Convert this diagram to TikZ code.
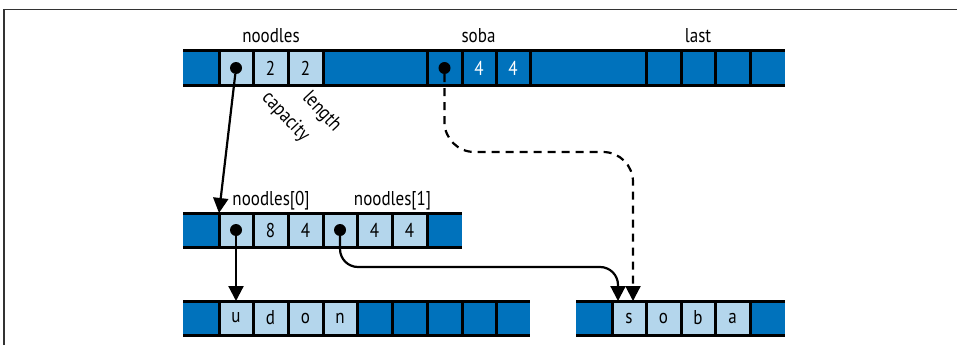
\documentclass[tikz,border=0pt]{standalone}
\usepackage{fontspec}
\setmainfont[FakeStretch=0.85]{PT Sans}
\usetikzlibrary{calc, arrows.meta}
\definecolor{slicedark}{RGB}{0,114,188}
\definecolor{slicelight}{RGB}{180,214,236}

\begin{document}
\begin{tikzpicture}[x=1pt, y=-1pt, font=\fontsize{20}{22}\selectfont,
  dk/.style={rectangle, inner sep=0pt, outer sep=0pt, minimum height=34pt,
    anchor=north west, fill=slicedark, text=white},
  lt/.style={dk, fill=slicelight, text=black},
  barline/.style={line width=3pt},
  ptrdot/.style={circle, fill=black, inner sep=0pt, minimum size=12pt},
  ptrline/.style={line width=2.2pt, -{Triangle[length=15pt, width=15pt]}}]
  \useasboundingbox (0,0) rectangle (957,345);
  \draw[line width=1.5pt, black!80] (4,345) -- (4,9.5) -- (957,9.5);

  % top row: noodles, soba, last
  \foreach \nm/\xa/\xb/\st/\tx in {a0/183/219/dk/, a1/219/253/lt/, a2/253/288/lt/2,
      a3/288/323/lt/2, a4/323/427/dk/, a5/427/462/dk/, a6/462/496/dk/4, a7/496/530/dk/4,
      a8/530/646/dk/, a9/646/681/dk/, a10/681/715/dk/, a11/715/750/dk/, a12/750/785/dk/}
    \node[\st, minimum width={(\xb-\xa)*1pt}] (\nm) at (\xa,51) {\tx};
  % backing array of noodles
  \foreach \nm/\xa/\xb/\st/\tx in {b0/183/219/dk/, b1/219/253/lt/, b2/253/288/lt/8,
      b3/288/323/lt/4, b4/323/357/lt/, b5/357/392/lt/4, b6/392/427/lt/4, b7/427/462/dk/}
    \node[\st, minimum width={(\xb-\xa)*1pt}] (\nm) at (\xa,213) {\tx};
  % the two string arrays
  \foreach \nm/\xa/\xb/\st/\tx in {c0/183/219/dk/, c1/219/253/lt/u, c2/253/288/lt/d,
      c3/288/323/lt/o, c4/323/357/lt/n, c5/357/392/dk/, c6/392/427/dk/, c7/427/462/dk/,
      c8/462/496/dk/, c9/496/530/dk/,
      d0/576/612/dk/, d1/612/646/lt/s, d2/646/681/lt/o, d3/681/715/lt/b,
      d4/715/750/lt/a, d5/750/785/dk/}
    \node[\st, minimum width={(\xb-\xa)*1pt}] (\nm) at (\xa,301) {\tx};

  \foreach \c in {a0,a1,a2,a3,a4,a5,a6,a7,a8,a9,a10,a11,b0,b1,b2,b3,b4,b5,b6,
      c0,c1,c2,c3,c4,c5,c6,c7,c8,d0,d1,d2,d3,d4}
    \draw[barline] (\c.north east) -- (\c.south east);
  \foreach \f/\l in {a0/a12, b0/b7, c0/c9, d0/d5} {
    \draw[barline] (\f.north west) -- (\l.north east);
    \draw[barline] (\f.south west) -- (\l.south east);
  }

  \node[anchor=base] (lnoodles) at ($(a1.north west)!.5!(a3.north east)+(0,-8)$) {noodles};
  \node[anchor=base] (lsoba) at ($(a5.north west)!.5!(a7.north east)+(0,-8)$) {soba};
  \node[anchor=base] (llast) at ($(a9.north west)!.5!(a11.north east)+(0,-8)$) {last};
  \node[anchor=base] (lzero) at ($(b1.north west)!.5!(b3.north east)+(0,-8)$) {noodles[0]};
  \node[anchor=base] (lone) at ($(b4.north west)!.5!(b7.north east)+(0,-8)$) {noodles[1]};
  \node[rotate=-47, inner sep=1pt] (lcap) at ($(a2.south)+(15,32)$) {capacity};
  \node[rotate=-47, inner sep=1pt] (llen) at ($(a3.south)+(16,27)$) {length};

  \foreach \c in {a1,a5,b1,b4}
    \node[ptrdot] (p\c) at (\c) {};
  \coordinate (solidlvl) at (0,267);
  \coordinate (dashlvl) at (0,152);
  \coordinate (sin) at ([xshift=6pt]d1.north west);
  \coordinate (din) at ([xshift=4pt]d1.north);
  \draw[ptrline] (pa1) -- (b1.north west);
  \draw[ptrline] (pb1) -- (c1.north);
  \draw[ptrline, rounded corners=18pt] (pb4) -- (pb4 |- solidlvl) -- (sin |- solidlvl) -- (sin);
  \draw[ptrline, dash pattern=on 8pt off 6pt, rounded corners=30pt]
    (pa5) -- (pa5 |- dashlvl) -- (din |- dashlvl) -- (din);
\end{tikzpicture}
\end{document}
